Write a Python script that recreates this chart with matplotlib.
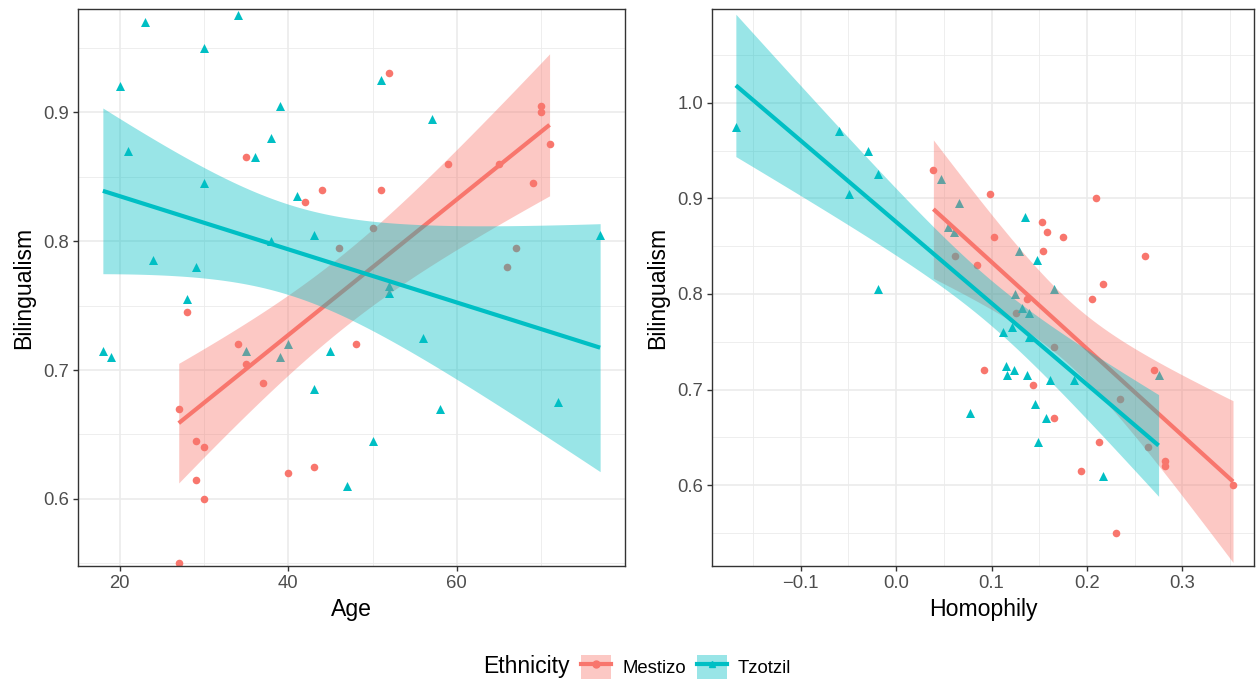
import numpy as np
import matplotlib.pyplot as plt
from matplotlib.patches import Patch
from matplotlib.lines import Line2D
from matplotlib.ticker import MultipleLocator

plt.rcParams["font.family"] = ["Liberation Sans", "DejaVu Sans"]

RED = "#F8766D"
TEAL = "#00BFC4"

ethnicities = ["Mestizo", "Tzotzil"]

# Mestizo respondents
mestizo_bilingualism = [0.93, 0.905, 0.90, 0.875, 0.865, 0.86, 0.86, 0.845, 0.84, 0.84,
                        0.83, 0.81, 0.795, 0.795, 0.78, 0.745, 0.72, 0.72, 0.705, 0.69,
                        0.67, 0.645, 0.64, 0.625, 0.62, 0.615, 0.60, 0.55]
mestizo_age = [52, 70, 70, 71, 35, 59, 65, 69, 51, 44,
               42, 50, 46, 67, 66, 28, 34, 48, 35, 37,
               27, 29, 30, 43, 40, 29, 30, 27]
mestizo_homophily = [0.039, 0.098, 0.209, 0.153, 0.158, 0.175, 0.103, 0.154, 0.062, 0.261,
                     0.085, 0.217, 0.137, 0.205, 0.126, 0.165, 0.092, 0.270, 0.143, 0.235,
                     0.165, 0.213, 0.264, 0.282, 0.282, 0.194, 0.353, 0.230]

# Tzotzil respondents
tzotzil_bilingualism = [0.975, 0.97, 0.95, 0.925, 0.92, 0.905, 0.895, 0.88, 0.87, 0.865,
                        0.845, 0.835, 0.805, 0.805, 0.80, 0.785, 0.78, 0.765, 0.76, 0.755,
                        0.725, 0.72, 0.715, 0.715, 0.715, 0.71, 0.71, 0.685, 0.675, 0.67,
                        0.645, 0.61]
tzotzil_age = [34, 23, 30, 51, 20, 39, 57, 38, 21, 36,
               30, 41, 43, 77, 38, 24, 29, 52, 52, 28,
               56, 40, 18, 35, 45, 19, 39, 43, 72, 58,
               50, 47]
tzotzil_homophily = [-0.168, -0.060, -0.029, -0.019, 0.047, -0.049, 0.066, 0.135, 0.054, 0.061,
                     0.129, 0.148, -0.019, 0.165, 0.125, 0.132, 0.139, 0.121, 0.112, 0.139,
                     0.115, 0.124, 0.116, 0.137, 0.275, 0.161, 0.186, 0.145, 0.077, 0.157,
                     0.149, 0.217]

# two-sided 95% t quantiles for the n - 2 residual degrees of freedom
T_MESTIZO = 2.0555  # df = 26
T_TZOTZIL = 2.0423  # df = 30


def lm_band(x, y, tq):
    """Least squares line with its 95% confidence band over the range of x."""
    x = np.asarray(x, float)
    y = np.asarray(y, float)
    n = len(x)
    slope, icept = np.polyfit(x, y, 1)
    resid = y - (icept + slope * x)
    s = np.sqrt(np.sum(resid ** 2) / (n - 2))
    sxx = np.sum((x - x.mean()) ** 2)
    grid = np.linspace(x.min(), x.max(), 100)
    fit = icept + slope * grid
    se = s * np.sqrt(1.0 / n + (grid - x.mean()) ** 2 / sxx)
    return grid, fit, fit - tq * se, fit + tq * se


def style_axes(ax):
    ax.set_axisbelow(True)
    ax.grid(which="major", color="#EBEBEB", lw=1.2)
    ax.grid(which="minor", color="#EBEBEB", lw=0.6)
    for sp in ax.spines.values():
        sp.set_color("#333333")
        sp.set_linewidth(1.0)
    ax.tick_params(which="major", length=3.5, width=1.0, color="#333333",
                   labelsize=13.3, labelcolor="#4D4D4D", pad=3)
    ax.tick_params(which="minor", length=0)


def panel(ax, xm, xt, xlabel):
    groups = [
        (xm, mestizo_bilingualism, RED, "o", 30, T_MESTIZO),
        (xt, tzotzil_bilingualism, TEAL, "^", 42, T_TZOTZIL),
    ]
    for x, y, col, mk, sz, _ in groups:
        ax.scatter(x, y, s=sz, marker=mk, color=col, linewidths=0, zorder=2)
    z = 3
    for x, y, col, mk, sz, tq in groups:
        g, fit, lo, hi = lm_band(x, y, tq)
        ax.fill_between(g, lo, hi, color=col, alpha=0.4, linewidth=0, zorder=z)
        ax.plot(g, fit, color=col, lw=3, solid_capstyle="butt", zorder=z + 1)
        z += 2
    ax.set_xlabel(xlabel, fontsize=16.6, labelpad=4)
    ax.set_ylabel("Bilingualism", fontsize=16.6, labelpad=6)
    style_axes(ax)


fig = plt.figure(figsize=(12.57, 6.83), dpi=100)
ax1 = fig.add_axes([78 / 1257, 117 / 683, 547 / 1257, 557 / 683])
ax2 = fig.add_axes([712 / 1257, 117 / 683, 542 / 1257, 557 / 683])

panel(ax1, mestizo_age, tzotzil_age, "Age")
ax1.set_xlim(15.05, 79.95)
ax1.set_ylim(0.548, 0.98)
ax1.xaxis.set_major_locator(MultipleLocator(20))
ax1.xaxis.set_minor_locator(MultipleLocator(10))
ax1.yaxis.set_major_locator(MultipleLocator(0.1))
ax1.yaxis.set_minor_locator(MultipleLocator(0.05))

panel(ax2, mestizo_homophily, tzotzil_homophily, "Homophily")
ax2.set_xlim(-0.193, 0.375)
ax2.set_ylim(0.5155, 1.098)
ax2.xaxis.set_major_locator(MultipleLocator(0.1))
ax2.xaxis.set_minor_locator(MultipleLocator(0.05))
ax2.yaxis.set_major_locator(MultipleLocator(0.1))
ax2.yaxis.set_minor_locator(MultipleLocator(0.05))
ax2.xaxis.set_major_formatter(lambda v, p: f"{v:.1f}".replace("-", "\u2212"))
ax2.yaxis.set_major_formatter(lambda v, p: f"{v:.1f}")
ax1.yaxis.set_major_formatter(lambda v, p: f"{v:.1f}")

# legend along the bottom
handles = []
for col, mk in zip([RED, TEAL], ["o", "^"]):
    handles.append((Patch(facecolor=col, alpha=0.4, linewidth=0),
                    Line2D([], [], color=col, lw=3, marker=mk, markersize=5)))
fig.text(526 / 1257, 1 - 667 / 683, "Ethnicity", fontsize=16.6,
         ha="center", va="center")
fig.legend(handles, ethnicities, ncol=2, loc="center left",
           bbox_to_anchor=(581 / 1257, 1 - 667 / 683), frameon=False,
           fontsize=13.3, handlelength=1.62, handleheight=1.62,
           handletextpad=0.6, columnspacing=0.6, numpoints=1,
           borderpad=0, borderaxespad=0)

fig.savefig("out.png", dpi=100)
